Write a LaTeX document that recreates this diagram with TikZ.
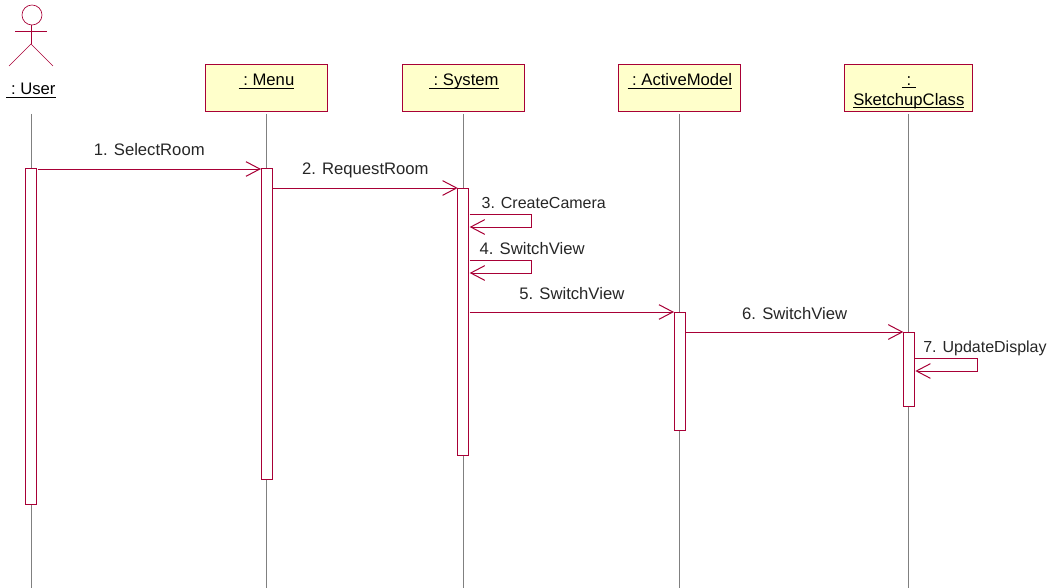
\documentclass[tikz,border=0pt]{standalone}
\usepackage{fontspec}
\setmainfont{Liberation Sans}
\usepackage{xcolor}
\usetikzlibrary{arrows.meta}
\usetikzlibrary{positioning}
\definecolor{umlline}{HTML}{A80036}
\definecolor{umlfill}{HTML}{FFFFCB}
\newcommand{\boxtop}{\rule{0pt}{13.5pt}}
\newcommand{\boxbot}{\rule[-3pt]{0pt}{3pt}}
\newcommand{\objname}[1]{\underline{\smash{#1}}}

\begin{document}
\begin{tikzpicture}[
    x=.75pt,y=-.75pt,
    outer sep=0pt,
    font=\fontsize{12.5}{14.25}\selectfont,
    mybox/.style={draw=umlline,fill=umlfill,line width=.75pt,rectangle,align=center,minimum width=91.5pt,minimum height=35.25pt,inner sep=0pt},
    mybar/.style={draw=umlline,fill=white,line width=.75pt,rectangle,minimum width=8.25pt,inner sep=0pt,anchor=north},
    lifeline/.style={draw=black!50,line width=.6pt},
    actor/.style={draw=umlline,line width=.5pt},
    msg/.style={draw=umlline,line width=.75pt,-{Straight Barb[length=10.5pt,width=11pt,line width=.75pt]}},
    msgtext/.style={anchor=base,inner sep=0pt,yshift=10pt,text=black!85},
    looptext/.style={anchor=base west,inner sep=0pt,yshift=4.5pt,text=black!85},
    narrow/.style={font=\fontsize{12}{14}\selectfont},
    ]
    \useasboundingbox (0,0) rectangle (1059,588);

    \node (menu)   at (266.5,88.5)           [mybox] {\boxtop\objname{\ :\ Menu}\\\boxbot};
    \node (system) [right=56.5pt of menu]    [mybox] {\boxtop\objname{\ :\ System}\\\boxbot};
    \node (model)  [right=70.5pt of system]  [mybox] {\boxtop\objname{\ :\ ActiveModel}\\\boxbot};
    \node (sketch) [right=78pt of model]     [mybox,minimum width=96pt] {\boxtop\objname{\ :\ }\\[.5pt]\boxbot\objname{SketchupClass}};

    % actor
    \node (userhead) at (32,15) [circle,actor,fill=white,minimum size=15pt,inner sep=0pt] {};
    \node (user) at (31,95) [anchor=base] {\objname{\ :\ User}};
    \coordinate (userneck) at (userhead.south -| user);
    \draw [actor] (userneck) -- ++(0,19) coordinate (userhip);
    \draw [actor] ([xshift=-12pt]userneck |- 0,31) -- ([xshift=12pt]userneck |- 0,31);
    \draw [actor] (9,66) -- (userhip) -- (53,66);

    % lifelines, top and bottom are common
    \coordinate (lifetop) at (0,114);
    \coordinate (lifeend) at (0,588);
    \draw [lifeline] (user |- lifetop)   -- (user |- lifeend);
    \draw [lifeline] (menu |- lifetop)   -- (menu |- lifeend);
    \draw [lifeline] (system |- lifetop) -- (system |- lifeend);
    \draw [lifeline] (model |- lifetop)  -- (model |- lifeend);
    \draw [lifeline] (sketch |- lifetop) -- (sketch |- lifeend);

    \node (userbar)   at (user |- 0,168)    [mybar,minimum height=252pt] {};
    \node (menubar)   at (menu |- 0,168)    [mybar,minimum height=233.25pt] {};
    \node (systembar) at (system |- 0,188)  [mybar,minimum height=200.25pt,xshift=-.5pt] {};
    \node (modelbar)  at (model |- 0,312)   [mybar,minimum height=88.5pt,xshift=-.25pt] {};
    \node (sketchbar) at (sketch |- 0,332)  [mybar,minimum height=55.5pt] {};

    \coordinate (select) at (0,169);
    \coordinate (request) at (0,188);
    \coordinate (camera) at (0,214);
    \coordinate (view) at (0,260);
    \coordinate (viewa) at (0,312);
    \coordinate (viewb) at (0,332);
    \coordinate (display) at (0,358);

    \draw [msg] ([xshift=.75pt]userbar.east |- select) -- (menubar.west |- select) node[midway,msgtext] {1. SelectRoom};
    \draw [msg] ([xshift=.75pt]menubar.east |- request) -- (systembar.west |- request) node[midway,msgtext] {2. RequestRoom};
    \draw [msg] ([xshift=.75pt]systembar.east |- camera) node[looptext,narrow,xshift=9pt] {3. CreateCamera} -- ++(62,0) -- ++(0,13) -- ([xshift=.75pt]systembar.east |- 0,227);
    \draw [msg] ([xshift=.75pt]systembar.east |- view) node[looptext,xshift=7.5pt] {4. SwitchView} -- ++(62,0) -- ++(0,13) -- ([xshift=.75pt]systembar.east |- 0,273);
    \draw [msg] ([xshift=.75pt]systembar.east |- viewa) -- (modelbar.west |- viewa) node[midway,msgtext,yshift=-.75pt] {5. SwitchView};
    \draw [msg] ([xshift=.75pt]modelbar.east |- viewb) -- (sketchbar.west |- viewb) node[midway,msgtext,yshift=-.75pt] {6. SwitchView};
    \draw [msg] ([xshift=.75pt]sketchbar.east |- display) node[looptext,narrow,xshift=6pt] {7. UpdateDisplay} -- ++(62,0) -- ++(0,13) -- ([xshift=.75pt]sketchbar.east |- 0,371);
\end{tikzpicture}
\end{document}
